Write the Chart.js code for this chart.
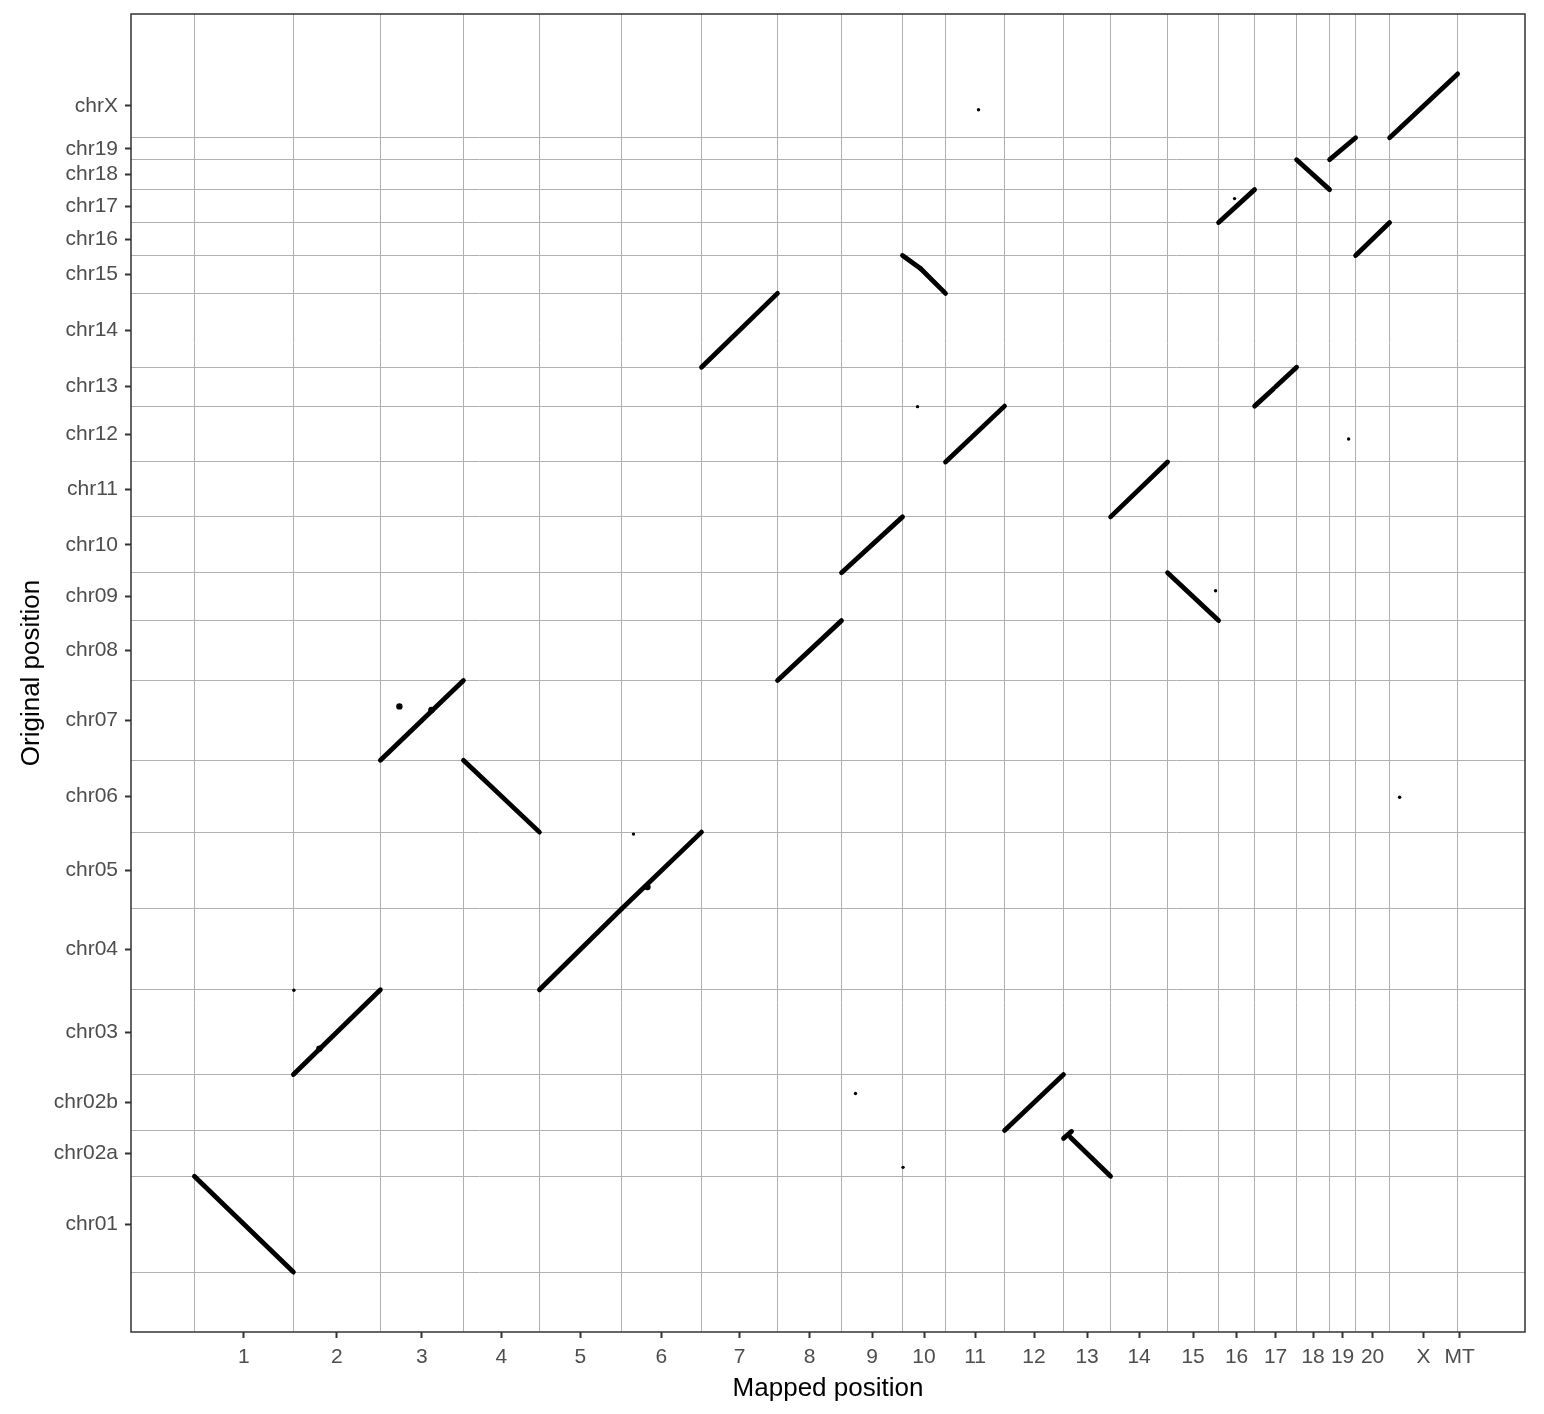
<!DOCTYPE html>
<html>
<head>
<meta charset="utf-8">
<script src="https://cdn.jsdelivr.net/npm/chart.js@4.4.0/dist/chart.umd.min.js"></script>
<style>
  html, body { margin: 0; padding: 0; background: #fff; }
  #wrap { width: 1544px; height: 1414px; }
</style>
</head>
<body>
<div id="wrap"><canvas id="dotplot" width="1544" height="1414"></canvas></div>
<script>
// chromosome sizes (Mb) on each axis
const mappedChroms = ["1", "2", "3", "4", "5", "6", "7", "8", "9", "10", "11", "12", "13", "14", "15", "16", "17", "18", "19", "20", "X", "MT"];
const mappedLengths = [198, 174, 166, 152, 164, 160, 152, 128, 122, 86, 118, 118, 94, 114, 102, 72, 84, 66, 52, 68, 136, 8];
const originalChroms = ["chr01", "chr02a", "chr02b", "chr03", "chr04", "chr05", "chr06", "chr07", "chr08", "chr09", "chr10",
  "chr11", "chr12", "chr13", "chr14", "chr15", "chr16", "chr17", "chr18", "chr19", "chrX"];
const originalLengths = [192, 92, 112, 170, 162, 154, 144, 160, 120, 96, 112, 110, 112, 78, 148, 76, 66, 66, 60, 44, 128];

// syntenic blocks: mapped chrom, mapped start, mapped end, original chrom, original start, original end
const blocks = [
  ["1", 0, 198, "chr01", 192, 0],
  ["2", 0, 174, "chr03", 0, 170],
  ["3", 0, 166, "chr07", 0, 160],
  ["4", 0, 152, "chr06", 144, 0],
  ["5", 0, 164, "chr04", 0, 162],
  ["6", 0, 160, "chr05", 0, 154],
  ["7", 0, 152, "chr14", 0, 148],
  ["8", 0, 128, "chr08", 0, 120],
  ["9", 0, 122, "chr10", 0, 112],
  ["10", 0, 36, "chr15", 76, 50],
  ["10", 36, 86, "chr15", 50, 0],
  ["11", 0, 118, "chr12", 0, 112],
  ["12", 0, 118, "chr02b", 0, 112],
  ["13", 0, 16, "chr02a", 76, 90],
  ["13", 14, 94, "chr02a", 78, 0],
  ["14", 0, 114, "chr11", 0, 110],
  ["15", 0, 102, "chr09", 96, 0],
  ["16", 0, 72, "chr17", 0, 66],
  ["17", 0, 38, "chr13", 0, 35],
  ["17", 42, 84, "chr13", 39, 78],
  ["18", 0, 66, "chr18", 60, 0],
  ["19", 0, 52, "chr19", 0, 44],
  ["20", 0, 68, "chr16", 0, 66],
  ["X", 0, 136, "chrX", 0, 128]
];

// isolated hits: mapped chrom, mapped pos, original chrom, original pos
const strayHits = [
  ["11", 66, "chrX", 56],
  ["10", 30, "chr12", 111],
  ["19", 38, "chr12", 46],
  ["X", 20, "chr06", 70],
  ["6", 24, "chr05", 150],
  ["2", 1, "chr03", 169],
  ["9", 28, "chr02b", 74],
  ["10", 1, "chr02a", 18],
  ["15", 96, "chr09", 60],
  ["16", 32, "chr17", 48]
];
// small clusters next to the main diagonals
const clusterHits = [
  ["3", 38, "chr07", 108],
  ["3", 102, "chr07", 101],
  ["2", 52, "chr03", 52],
  ["6", 52, "chr05", 44]
];

function starts(lengths) {
  const out = [];
  let acc = 0;
  lengths.forEach(l => { out.push(acc); acc += l; });
  return out;
}
const xStart = starts(mappedLengths);
const yStart = starts(originalLengths);
const xTotal = mappedLengths.reduce((a, b) => a + b, 0);
const yTotal = originalLengths.reduce((a, b) => a + b, 0);
const xOf = (c, p) => xStart[mappedChroms.indexOf(c)] + p;
const yOf = (c, p) => yStart[originalChroms.indexOf(c)] + p;

const xCenters = mappedLengths.map((l, i) => xStart[i] + l / 2);
const yCenters = originalLengths.map((l, i) => yStart[i] + l / 2);
const xBounds = new Set(xStart);
const yBounds = new Set(yStart);

const gridColor = "#b0b0b0";
const inkColor = "#333333";

const datasets = blocks.map(b => ({
  data: [{ x: xOf(b[0], b[1]), y: yOf(b[3], b[4]) }, { x: xOf(b[0], b[2]), y: yOf(b[3], b[5]) }],
  showLine: true,
  borderColor: "#000",
  borderWidth: 4.8,
  borderCapStyle: "round",
  borderJoinStyle: "round",
  pointRadius: 0
}));
datasets.push({
  data: strayHits.map(h => ({ x: xOf(h[0], h[1]), y: yOf(h[2], h[3]) })),
  backgroundColor: "#000",
  borderWidth: 0,
  pointRadius: 1.7
});
datasets.push({
  data: clusterHits.map(h => ({ x: xOf(h[0], h[1]), y: yOf(h[2], h[3]) })),
  backgroundColor: "#000",
  borderWidth: 0,
  pointRadius: 3.2
});

const panelBorder = {
  id: "panelBorder",
  afterDraw(chart) {
    const { ctx, chartArea: a } = chart;
    ctx.save();
    ctx.strokeStyle = inkColor;
    ctx.lineWidth = 1.5;
    ctx.strokeRect(a.left, a.top, a.right - a.left, a.bottom - a.top);
    ctx.restore();
  }
};

const font = { family: "'Liberation Sans', Arial, sans-serif", size: 21 };

new Chart(document.getElementById("dotplot"), {
  type: "scatter",
  data: { datasets },
  plugins: [panelBorder],
  options: {
    responsive: false,
    animation: false,
    layout: { padding: { left: 0, top: 14, right: 19, bottom: 0 } },
    plugins: { legend: { display: false }, tooltip: { enabled: false } },
    scales: {
      x: {
        type: "linear",
        min: -xTotal * 0.05,
        max: xTotal * 1.05,
        afterBuildTicks: s => {
          s.ticks = [...xStart, ...xCenters].sort((a, b) => a - b).map(v => ({ value: v }));
        },
        afterFit: s => { s.height = 82; s.paddingLeft = 0; s.paddingRight = 0; },
        border: { display: false },
        grid: {
          color: c => (c.tick && xBounds.has(c.tick.value) ? gridColor : "rgba(0,0,0,0)"),
          tickColor: c => (c.tick && xBounds.has(c.tick.value) ? "rgba(0,0,0,0)" : inkColor),
          lineWidth: 1,
          tickWidth: 2,
          tickLength: 6
        },
        ticks: {
          autoSkip: false,
          maxRotation: 0,
          padding: 7,
          color: "#4d4d4d",
          font,
          callback: v => {
            const i = xCenters.indexOf(v);
            return i >= 0 ? mappedChroms[i] : "";
          }
        },
        title: {
          display: true,
          text: "Mapped position",
          color: "#000",
          font: { family: font.family, size: 26 },
          padding: { top: 0, bottom: 10 }
        }
      },
      y: {
        type: "linear",
        min: -yTotal * 0.05,
        max: yTotal * 1.05,
        afterBuildTicks: s => {
          s.ticks = [...yStart, ...yCenters].sort((a, b) => a - b).map(v => ({ value: v }));
        },
        afterFit: s => { s.width = 131; s.paddingTop = 0; s.paddingBottom = 0; },
        border: { display: false },
        grid: {
          color: c => (c.tick && yBounds.has(c.tick.value) ? gridColor : "rgba(0,0,0,0)"),
          tickColor: c => (c.tick && yBounds.has(c.tick.value) ? "rgba(0,0,0,0)" : inkColor),
          lineWidth: 1,
          tickWidth: 2,
          tickLength: 6
        },
        ticks: {
          autoSkip: false,
          padding: 7,
          color: "#4d4d4d",
          font,
          callback: v => {
            const i = yCenters.indexOf(v);
            return i >= 0 ? originalChroms[i] : "";
          }
        },
        title: {
          display: true,
          text: "Original position",
          color: "#000",
          font: { family: font.family, size: 26 },
          padding: { top: 16, bottom: 0 }
        }
      }
    }
  }
});
</script>
</body>
</html>
